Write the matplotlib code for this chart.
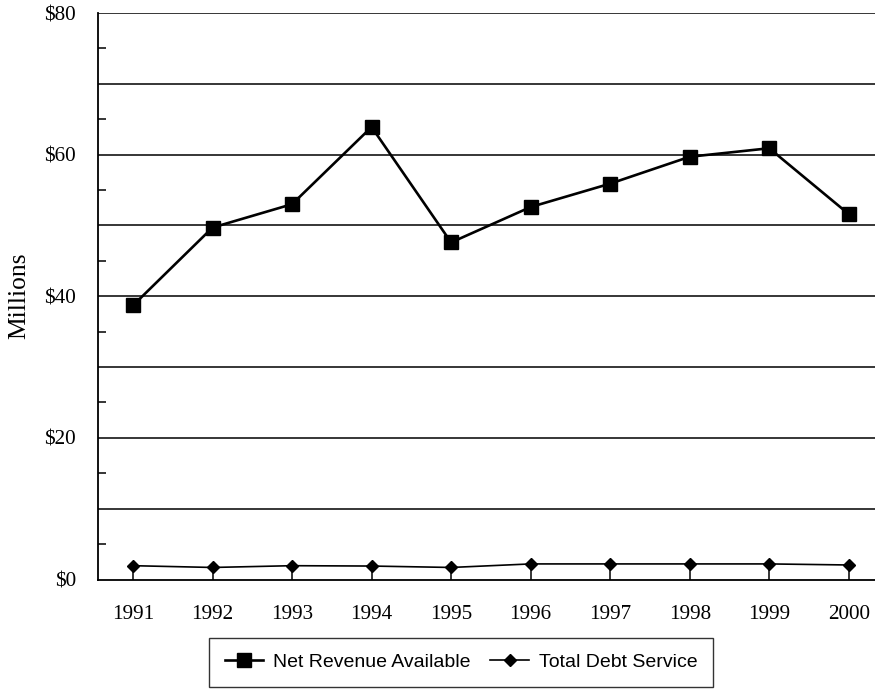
import matplotlib
matplotlib.use("Agg")
import matplotlib.pyplot as plt
from matplotlib.ticker import FixedLocator

years = ["1991", "1992", "1993", "1994", "1995", "1996", "1997", "1998", "1999", "2000"]
net_revenue = [38.7, 49.7, 53.0, 63.9, 47.6, 52.6, 55.9, 59.7, 60.9, 51.6]
debt_service = [1.95, 1.7, 1.95, 1.9, 1.7, 2.2, 2.2, 2.2, 2.2, 2.05]
y_labels = ["$0", "$20", "$40", "$60", "$80"]
y_label_vals = [0, 20, 40, 60, 80]

serif = "Liberation Serif"
sans = "Liberation Sans"

fig = plt.figure(figsize=(8.75, 6.89), dpi=100)
ax = fig.add_axes([98/875, 1-579.5/689, 1-98/875, (579.5-13)/689])

x = list(range(len(years)))
l1, = ax.plot(x, net_revenue, color="black", lw=1.9, marker="s", markersize=10.3,
              label="Net Revenue Available", zorder=4)
l2, = ax.plot(x, debt_service, color="black", lw=1.2, marker="D", markersize=6.2,
              label="Total Debt Service", zorder=4)

ax.set_xlim(-0.44, 9.33)
ax.set_ylim(0, 80)

# gridlines every 10
for g in range(10, 81, 10):
    ax.axhline(g, color="black", lw=1.1, zorder=1)

ax.yaxis.set_major_locator(FixedLocator(y_label_vals))
ax.set_yticklabels(y_labels, fontfamily=serif, fontsize=15.3)
ax.yaxis.set_minor_locator(FixedLocator(list(range(5, 80, 10))))
ax.tick_params(axis="y", which="major", length=0, pad=15.8)
ax.tick_params(axis="y", which="minor", length=6, width=1.1, direction="in")

ax.set_xticks(x)
ax.set_xticklabels(years, fontfamily=serif, fontsize=15.2)
ax.tick_params(axis="x", which="major", length=10, width=1.1, direction="in", pad=18.4)

for s in ["top", "right"]:
    ax.spines[s].set_visible(False)
for s in ["left", "bottom"]:
    ax.spines[s].set_linewidth(1.3)
    ax.spines[s].set_color("black")

fig.text(19/875, 1-296/689, "Millions", rotation=90, ha="center", va="center",
         fontfamily=serif, fontsize=18.4)

leg = fig.legend(handles=[l1, l2], loc="upper center", bbox_to_anchor=(461/875, 1-638/689),
                 ncol=2, frameon=True, fancybox=False, edgecolor="black",
                 prop={"family": sans, "size": 14}, handlelength=2.0,
                 columnspacing=1.0, handletextpad=0.5, borderpad=0.8, borderaxespad=0)
leg.get_frame().set_linewidth(1.0)

fig.savefig("out.png", dpi=100)
